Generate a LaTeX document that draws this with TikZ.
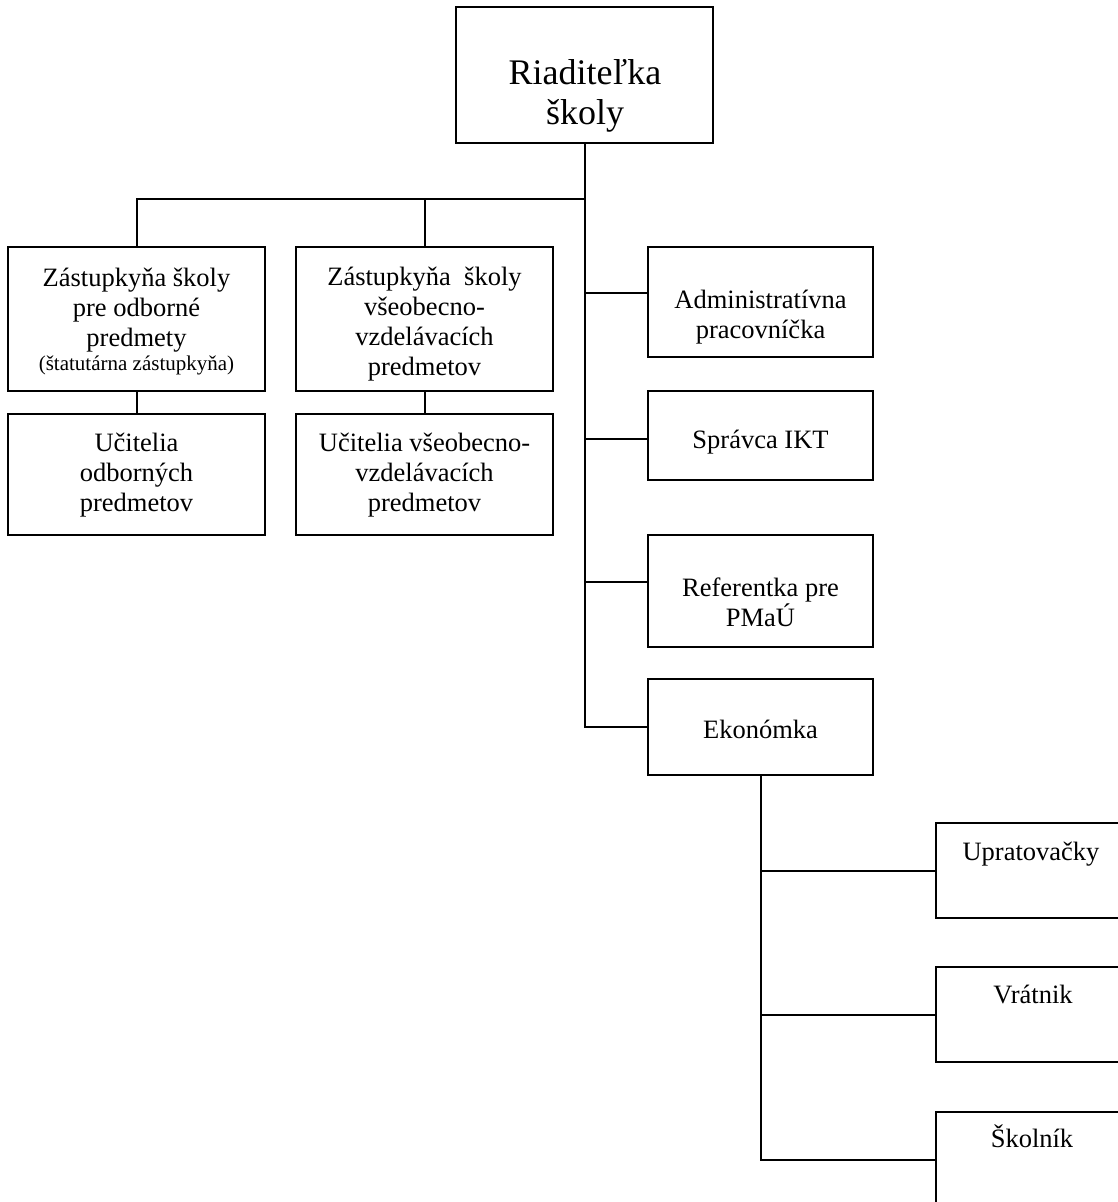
\documentclass[tikz,border=0pt]{standalone}
\usepackage{fontspec}
\setmainfont{Liberation Serif}
\newcommand\stk[1]{\vtop{\lineskiplimit=-100pt\relax\let\\\cr\halign{\hfil##\hfil\cr#1\crcr}}}
\begin{document}
\begin{tikzpicture}[x=1pt,y=-1pt,
  box/.style={draw, line width=2pt, inner sep=0pt},
  conn/.style={line width=2pt},
  txt/.style={anchor=base, inner sep=0pt, font=\fontsize{26.5}{30}\selectfont}]
\useasboundingbox (0,0) rectangle (1118,1202);
\clip (0,0) rectangle (1118,1202);
% boxes
\node[box, minimum width=257pt, minimum height=136pt] (rid) at (584.5,75) {};
\node[box, minimum width=257pt, minimum height=144pt] (b1) at (136.5,319) {};
\node[box, minimum width=257pt, minimum height=144pt] (b2) at (424.5,319) {};
\node[box, minimum width=257pt, minimum height=121pt] (b3) at (136.5,474.5) {};
\node[box, minimum width=257pt, minimum height=121pt] (b4) at (424.5,474.5) {};
\node[box, minimum width=225pt, minimum height=110pt] (adm) at (760.5,302) {};
\node[box, minimum width=225pt, minimum height=89pt] (spr) at (760.5,435.5) {};
\node[box, minimum width=225pt, minimum height=112pt] (ref) at (760.5,591) {};
\node[box, minimum width=225pt, minimum height=96pt] (eko) at (760.5,727) {};
\node[box, minimum width=225pt, minimum height=95pt] (upr) at (1048.5,870.5) {};
\node[box, minimum width=225pt, minimum height=95pt] (vra) at (1048.5,1014.5) {};
\node[box, minimum width=225pt, minimum height=95pt] (sko) at (1048.5,1159.5) {};
% texts
\node[txt, font=\fontsize{36}{40}\selectfont] (trid) at (585,84) {\stk{Riaditeľka\\školy}};
\node[txt] (tb1) at (136.5,286) {\stk{Zástupkyňa školy\\pre odborné\\predmety\\\noalign{\vskip-6pt}{\fontsize{21}{23}\selectfont(štatutárna zástupkyňa)}}};
\node[txt] (tb2) at (424.5,285) {\stk{Zástupkyňa~ školy\\všeobecno-\\vzdelávacích\\predmetov}};
\node[txt] (tb3) at (136.5,451) {\stk{Učitelia\\odborných\\predmetov}};
\node[txt] (tb4) at (424.5,451) {\stk{Učitelia všeobecno-\\vzdelávacích\\predmetov}};
\node[txt] (tadm) at (760.5,308) {\stk{Administratívna\\pracovníčka}};
\node[txt] (tspr) at (760.5,448) {Správca IKT};
\node[txt] (tref) at (760.5,596) {\stk{Referentka pre\\PMaÚ}};
\node[txt] (teko) at (760.5,738) {Ekonómka};
\node[txt] (tupr) at (1031,860) {Upratovačky};
\node[txt] (tvra) at (1033,1003) {Vrátnik};
\node[txt] (tsko) at (1032,1147) {Školník};
% connectors
\coordinate (hj) at (584.5,199);
\coordinate (ta) at (584.5,293);
\coordinate (ts) at (584.5,439);
\coordinate (tr) at (584.5,582);
\draw[conn] (rid.south) |- (eko.west);
\draw[conn] (b1.north) |- (hj);
\draw[conn] (b2.north) -- (b2.north |- hj);
\draw[conn] (b1.south) -- (b3.north);
\draw[conn] (b2.south) -- (b4.north);
\draw[conn] (ta) -- (ta -| adm.west);
\draw[conn] (ts) -- (ts -| spr.west);
\draw[conn] (tr) -- (tr -| ref.west);
\draw[conn] (eko.south) |- (sko.west);
\draw[conn] (eko.south |- upr.west) -- (upr.west);
\draw[conn] (eko.south |- vra.west) -- (vra.west);
\end{tikzpicture}
\end{document}
